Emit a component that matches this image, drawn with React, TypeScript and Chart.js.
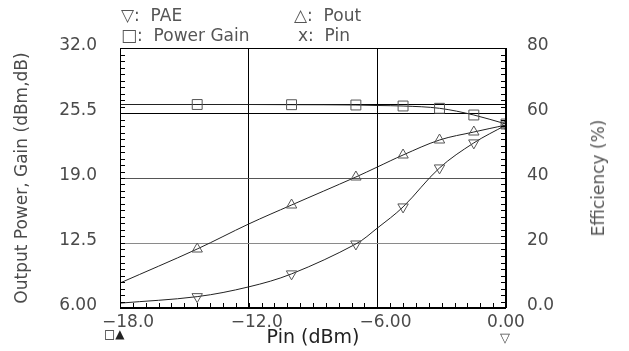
import React, { useEffect, useRef } from 'react';
import { Chart, registerables } from 'chart.js';

Chart.register(...registerables);

// ---- data ----
const pinValues = [-18, -14.4, -12, -10, -7, -6, -4.8, -3.1, -1.5, 0];
const markerShown = [false, true, false, true, true, false, true, true, true, true];
const poutValues = [8.5, 11.9, 14.4, 16.3, 19.1, 20.1, 21.3, 22.8, 23.6, 24.3];
const gainValues = [26.35, 26.35, 26.35, 26.33, 26.3, 26.25, 26.2, 25.97, 25.3, 24.4];
const paeValues = [1.5, 3.5, 6.5, 10.5, 19.7, 24.6, 31.1, 43.1, 50.8, 56.3];
const gainRefLevel = 26.35;

const leftTicks = [6, 12.5, 19, 25.5, 32];
const leftTickLabels = ['6.00', '12.5', '19.0', '25.5', '32.0'];
const rightTicks = [0, 20, 40, 60, 80];
const rightTickLabels = ['0.0', '20', '40', '60', '80'];
const xTicks = [-18, -12, -6, 0];
const xTickLabels = ['   \u221218.0', '   \u221212.0', '   \u22126.00', '0.00'];

const leftMinorStep = 0.65;
const bottomMinorStep = 0.6;

const FONT = 'DejaVu Sans';
const TEXT = '#4a4a4a';

const framePlugin = {
  id: 'frameAndMinorTicks',
  afterDatasetsDraw(chart: any) {
    const { ctx, chartArea } = chart;
    const { left, right, top, bottom } = chartArea;
    const x = chart.scales.x;
    const y = chart.scales.y;
    ctx.save();
    ctx.strokeStyle = '#000';
    ctx.lineWidth = 1;
    ctx.beginPath();
    const tl = 5;
    for (let v = 6; v <= 32.0001; v += leftMinorStep) {
      const py = Math.round(y.getPixelForValue(v)) + 0.5;
      ctx.moveTo(left, py);
      ctx.lineTo(left + tl, py);
      ctx.moveTo(right, py);
      ctx.lineTo(right - tl, py);
    }
    for (let v = -18; v <= 0.0001; v += bottomMinorStep) {
      const px = Math.round(x.getPixelForValue(v)) + 0.5;
      ctx.moveTo(px, bottom);
      ctx.lineTo(px, bottom - tl);
    }
    ctx.stroke();
    ctx.strokeRect(Math.round(left) + 0.5, Math.round(top) + 0.5, Math.round(right - left) - 1, Math.round(bottom - top) - 1);
    ctx.restore();
  },
};

export default function App() {
  const canvasRef = useRef<HTMLCanvasElement | null>(null);

  useEffect(() => {
    const canvas = canvasRef.current;
    if (!canvas) return;
    Chart.defaults.font.family = FONT;

    const pts = (vals: number[]) => pinValues.map((p, i) => ({ x: p, y: vals[i] }));
    const radii = (r: number) => markerShown.map((m) => (m ? r : 0));

    const lineCommon = {
      borderColor: '#222',
      borderWidth: 1,
      pointBorderColor: '#555',
      pointBackgroundColor: 'rgba(0,0,0,0)',
      pointBorderWidth: 1,
      tension: 0.35,
      fill: false,
    };

    const chart = new Chart(canvas, {
      type: 'line',
      data: {
        datasets: [
          {
            label: 'Power Gain',
            data: pts(gainValues),
            yAxisID: 'y',
            pointStyle: 'rect',
            pointRadius: radii(7),
            ...lineCommon,
            cubicInterpolationMode: 'monotone',
          },
          {
            label: 'Pout',
            data: pts(poutValues),
            yAxisID: 'y',
            pointStyle: 'triangle',
            pointRadius: radii(6),
            ...lineCommon,
          },
          {
            label: 'PAE',
            data: pts(paeValues),
            yAxisID: 'y1',
            pointStyle: 'triangle',
            pointRotation: 180,
            pointRadius: radii(6),
            ...lineCommon,
          },
          {
            label: 'gain level',
            data: [
              { x: pinValues[0], y: gainRefLevel },
              { x: pinValues[pinValues.length - 1], y: gainRefLevel },
            ],
            yAxisID: 'y',
            borderColor: '#000',
            borderWidth: 1,
            pointRadius: 0,
            fill: false,
          },
        ],
      },
      options: {
        animation: false,
        responsive: false,
        maintainAspectRatio: false,
        events: [],
        layout: { padding: { top: 48, left: 0, right: 0, bottom: 0 } },
        plugins: { legend: { display: false }, tooltip: { enabled: false } },
        scales: {
          x: {
            type: 'linear',
            min: -18,
            max: 0,
            afterBuildTicks: (s: any) => {
              s.ticks = xTicks.map((v) => ({ value: v }));
            },
            afterFit: (s: any) => {
              s.height = 43;
            },
            ticks: {
              autoSkip: false,
              maxRotation: 0,
              padding: 4,
              color: TEXT,
              font: { family: FONT, size: 17 },
              callback: (v: any) => {
                const i = xTicks.indexOf(Number(v));
                return i >= 0 ? xTickLabels[i] : '';
              },
            },
            grid: { color: '#000', lineWidth: 1, drawTicks: false },
            border: { display: false },
            title: {
              display: true,
              text: 'Pin (dBm)',
              color: '#222',
              font: { family: FONT, size: 19 },
              padding: { top: 0, bottom: 2 },
            },
          },
          y: {
            type: 'linear',
            position: 'left',
            min: 6,
            max: 32,
            afterBuildTicks: (s: any) => {
              s.ticks = leftTicks.map((v) => ({ value: v }));
            },
            afterFit: (s: any) => {
              s.width = 120;
            },
            ticks: {
              autoSkip: false,
              padding: 23,
              labelOffset: -2,
              color: TEXT,
              font: { family: FONT, size: 17 },
              callback: (v: any) => {
                const i = leftTicks.indexOf(Number(v));
                return i >= 0 ? leftTickLabels[i] : '';
              },
            },
            grid: {
              drawTicks: false,
              lineWidth: 1,
              color: (c: any) => {
                const v = c.tick ? c.tick.value : 0;
                if (v === 19) return '#555';
                if (v === 12.5) return '#8a8a8a';
                return '#000';
              },
            },
            border: { display: false },
            title: {
              display: true,
              text: 'Output Power, Gain (dBm,dB)',
              color: TEXT,
              font: { family: FONT, size: 17 },
              padding: { top: 12, bottom: 0 },
            },
          },
          y1: {
            type: 'linear',
            position: 'right',
            min: 0,
            max: 80,
            afterBuildTicks: (s: any) => {
              s.ticks = rightTicks.map((v) => ({ value: v }));
            },
            afterFit: (s: any) => {
              s.width = 123;
            },
            ticks: {
              autoSkip: false,
              padding: 21,
              labelOffset: -2,
              color: TEXT,
              font: { family: FONT, size: 17 },
              callback: (v: any) => {
                const i = rightTicks.indexOf(Number(v));
                return i >= 0 ? rightTickLabels[i] : '';
              },
            },
            grid: { display: false, drawTicks: false },
            border: { display: false },
          },
        },
      },
      plugins: [framePlugin],
    } as any);

    return () => chart.destroy();
  }, []);

  const txt: React.CSSProperties = {
    position: 'absolute',
    fontFamily: FONT,
    fontSize: 17,
    color: '#555',
    whiteSpace: 'pre',
    lineHeight: '20px',
  };

  return (
    <div style={{ position: 'fixed', left: 0, top: 0, width: 629, height: 351, background: '#fff', overflow: 'hidden' }}>
      <canvas ref={canvasRef} width={629} height={351} style={{ position: 'absolute', left: 0, top: 0, width: 629, height: 351 }} />
      <div style={{ ...txt, left: 121, top: 5 }}>▽:  PAE</div>
      <div style={{ ...txt, left: 294, top: 5 }}>△:  Pout</div>
      <div style={{ ...txt, left: 121, top: 25 }}>□:  Power Gain</div>
      <div style={{ ...txt, left: 298, top: 25 }}>x:  Pin</div>
      <div style={{ ...txt, left: 104, top: 324, fontSize: 12, color: '#222' }}>□▲</div>
      <div style={{ ...txt, left: 500, top: 328, fontSize: 13, color: '#444' }}>▽</div>
      <div
        style={{
          ...txt,
          left: 598,
          top: 178,
          transform: 'translate(-50%, -50%) rotate(-90deg)',
        }}
      >
        Efficiency (%)
      </div>
    </div>
  );
}
